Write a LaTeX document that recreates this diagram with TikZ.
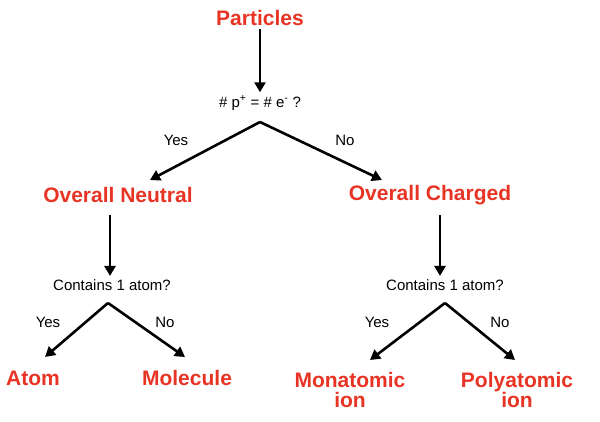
\documentclass[tikz,border=0pt]{standalone}
\usepackage{fontspec}
\setmainfont{Liberation Sans}
\usetikzlibrary{arrows.meta}
\definecolor{tred}{RGB}{232,52,36}
\begin{document}
\begin{tikzpicture}[x=1pt,y=-1pt,
  head/.style={text=tred,font=\fontsize{21}{23}\selectfont\bfseries,align=center},
  q/.style={font=\fontsize{15}{17}\selectfont},
  lab/.style={font=\fontsize{15}{17}\selectfont},
  arr/.style={line width=2.6pt,-{Triangle[length=10pt,width=11pt]}}]
\useasboundingbox (0,0) rectangle (600,422);
\node[head] (part) at (260,18) {Particles};
\node[q] (q1) at (260,103) {\# p\textsuperscript{+} = \# e\textsuperscript{-} ?};
\coordinate (s1) at (260,122);
\node[head] (neu) at (118,195) {Overall Neutral};
\node[head] (cha) at (430,195) {Overall Charged};
\draw[arr] (part.south) -- (q1.north);
\draw[arr] (s1) -- (150,180);
\draw[arr] (s1) -- (382,180);
\node[lab] at (176,140) {Yes};
\node[lab] at (345,140) {No};
\node[q] (q2) at (112,285) {Contains 1 atom?};
\node[q] (q3) at (445,285) {Contains 1 atom?};
\draw[arr] (110,215) -- (q2.north -| 110,0);
\draw[arr] (440,215) -- (q3.north -| 440,0);
\node[head] (atom) at (33,378) {Atom};
\node[head] (mol) at (187,378) {Molecule};
\node[head] (mon) at (350,390) {Monatomic\\[-3pt]ion};
\node[head] (pol) at (517,390) {Polyatomic\\[-3pt]ion};
\coordinate (s2) at (108,303);
\coordinate (s3) at (445,303);
\draw[arr] (s2) -- (45,357);
\draw[arr] (s2) -- (185,357);
\draw[arr] (s3) -- (370,360);
\draw[arr] (s3) -- (515,360);
\node[lab] at (48,322) {Yes};
\node[lab] at (165,322) {No};
\node[lab] at (377,322) {Yes};
\node[lab] at (500,322) {No};
\end{tikzpicture}
\end{document}
